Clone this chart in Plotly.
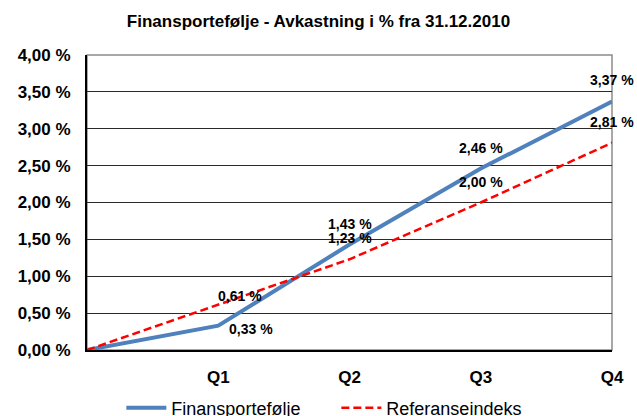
import plotly.graph_objects as go

categories = ["", "Q1", "Q2", "Q3", "Q4"]
finans = [0.00, 0.33, 1.43, 2.46, 3.37]
referanse = [0.00, 0.61, 1.23, 2.00, 2.81]
series_names = ["Finansportefølje", "Referanseindeks"]
title_text = "Finansportefølje - Avkastning i % fra 31.12.2010"

# label offsets (px) per point, style only
fin_shift = [None, (33, -3), (0, 21), (0, 21), (0, 21)]
ref_shift = [None, (22, 9), (0, 21), (0, 21), (0, 21)]

FONT = "Liberation Sans, Arial, sans-serif"

fig = go.Figure()
fig.add_trace(go.Scatter(x=categories, y=finans, mode="lines", name=series_names[0],
                         line=dict(color="#4F81BD", width=4), cliponaxis=False))
fig.add_trace(go.Scatter(x=categories, y=referanse, mode="lines", name=series_names[1],
                         line=dict(color="#FF0000", width=2.5, dash="8px,4px"), cliponaxis=False))

annotations = []
for vals, shifts in ((finans, fin_shift), (referanse, ref_shift)):
    for c, v, s in zip(categories, vals, shifts):
        if s is None:
            continue
        annotations.append(dict(
            x=c, y=v, xref="x", yref="y", showarrow=False,
            text=f"{v:.2f}".replace(".", ",") + " %",
            xshift=s[0], yshift=s[1],
            font=dict(family=FONT, size=14, color="#000000", weight="bold"),
        ))

fig.update_layout(
    width=637, height=416,
    margin=dict(l=87, r=25, t=55, b=66, autoexpand=False),
    paper_bgcolor="white", plot_bgcolor="white",
    separators=", ",
    title=dict(text=title_text, x=0.5, xref="container", xanchor="center",
               y=1 - 21 / 416, yanchor="middle",
               font=dict(family=FONT, size=17, color="#000000", weight="bold")),
    showlegend=True,
    legend=dict(orientation="h", x=0.528, xref="container", xanchor="center",
                y=-0.197, yanchor="middle", entrywidth=160, entrywidthmode="pixels",
                font=dict(family=FONT, size=18, color="#000000"), bgcolor="rgba(0,0,0,0)",
                itemwidth=40),
    annotations=annotations,
    xaxis=dict(type="category", range=[0, 4], showgrid=False, zeroline=False,
               automargin=False,
               showline=True, linecolor="#000000", linewidth=2,
               ticks="", ticklabelstandoff=11,
               tickfont=dict(family=FONT, size=17, color="#000000", weight="bold")),
    yaxis=dict(range=[0, 4], dtick=0.5, tick0=0, tickformat=".2f", ticksuffix=" %",
               automargin=False,
               showgrid=True, gridcolor="#2a2a2a", gridwidth=1, zeroline=False,
               showline=True, linecolor="#000000", linewidth=2, ticks="",
               ticklabelstandoff=11,
               tickfont=dict(family=FONT, size=17, color="#000000", weight="bold")),
    shapes=[dict(type="rect", xref="x domain", yref="y domain", x0=0, x1=1, y0=0, y1=1,
                 line=dict(color="#8c8c8c", width=1.5), layer="below")],
)

fig.write_html("out.html", config={"displayModeBar": False},
               post_script="document.body.style.margin='0px';document.body.style.overflow='hidden';")
